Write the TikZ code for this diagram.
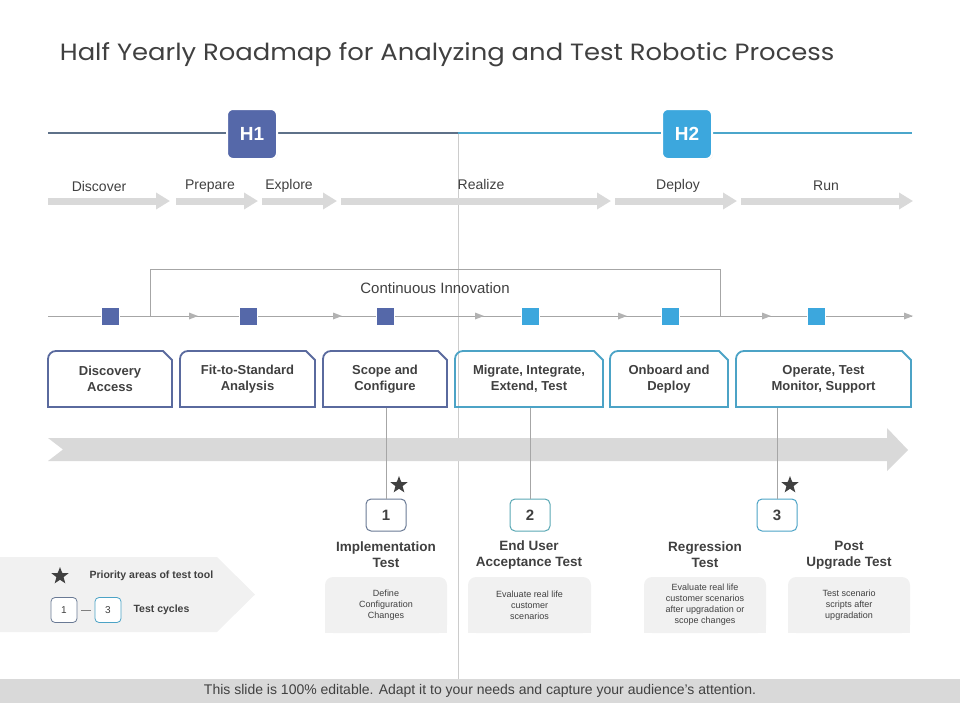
\documentclass[tikz,border=0pt]{standalone}
\usepackage{fontspec}
\setmainfont{Liberation Sans}
\newfontfamily\titlefont{Poppins}
\usetikzlibrary{arrows.meta,shapes.geometric,shadows,positioning}

\definecolor{hone}{HTML}{5568A9}
\definecolor{htwo}{HTML}{3CA7DD}
\definecolor{lineone}{HTML}{5E7189}
\definecolor{linetwo}{HTML}{4BA6CB}
\definecolor{boxone}{HTML}{5A6A9E}
\definecolor{boxtwo}{HTML}{4CA3C6}
\definecolor{numone}{HTML}{6A7A95}
\definecolor{numtwo}{HTML}{5AA8B4}
\definecolor{txt}{HTML}{404040}
\definecolor{lgray}{HTML}{D9D9D9}
\definecolor{pale}{HTML}{F1F1F1}

% stage box: name, left x, right x, colour, text
\newcommand{\stagebox}[5]{%
  \draw[#4, line width=1.8pt] (#2,407) [rounded corners=8pt]-- (#2,351) [sharp corners]-- (#3-9,351) -- (#3,360) -- (#3,407) -- cycle;
  \node[boxtext] (#1) at ({(#2+#3)/2},379) {#5};
}

\begin{document}
\begin{tikzpicture}[x=1pt,y=-1pt,
    lbl/.style={text=txt, font=\fontsize{14}{16}\selectfont},
    boxtext/.style={text=txt, font=\bfseries\fontsize{13}{16}\selectfont, align=center},
    halfbox/.style={rounded corners=6pt, minimum width=50pt, minimum height=50pt, draw=white, line width=2pt, text=white, font=\bfseries\fontsize{19}{20}\selectfont, drop shadow={opacity=0.2, shadow xshift=0.8pt, shadow yshift=-0.8pt}},
    sqmark/.style={minimum size=18pt, inner sep=0pt, draw=white, line width=0.6pt, drop shadow={opacity=0.3, shadow xshift=1.2pt, shadow yshift=-1.2pt}},
    phasearrow/.style={lgray, line width=7pt, -{Triangle[length=14pt,width=16pt]}},
    conn/.style={draw=gray!70, line width=0.8pt},
    numbox/.style={draw, rounded corners=5pt, minimum width=40pt, minimum height=32pt, fill=white, line width=1pt, text=txt, font=\bfseries\fontsize{15}{16}\selectfont},
    testtitle/.style={boxtext, font=\bfseries\fontsize{13.5}{16}\selectfont},
    desc/.style={fill=pale, rounded corners=8pt, minimum width=122pt, minimum height=56pt, text=txt, font=\fontsize{9}{11}\selectfont, align=center},
    prio/.style={star, star points=5, star point ratio=2.4, fill=txt, inner sep=0pt, minimum size=18pt}
  ]
  \useasboundingbox (0,0) rectangle (960,720);

  % Title
  \node[anchor=west, xscale=1.1, text=txt, font=\titlefont\fontsize{23.5}{26}\selectfont] (title) at (56,55) {Half Yearly Roadmap for Analyzing and Test Robotic Process};

  % Middle divider
  \draw[gray!40, line width=0.8pt] (458,133) -- (458,679);

  % Half year line
  \draw[lineone, line width=2pt] (48,133) -- (458,133);
  \draw[linetwo, line width=2pt] (458,133) -- (912,133);
  \node[halfbox, fill=hone] (h1) at (252,134) {H1};
  \node[halfbox, fill=htwo] (h2) at (687,134) {H2};

  % Phases
  \draw[phasearrow] (48,201) -- (170,201);
  \draw[phasearrow] (176,201) -- (258,201);
  \draw[phasearrow] (262,201) -- (337,201);
  \draw[phasearrow] (341,201) -- (611,201);
  \draw[phasearrow] (615,201) -- (737,201);
  \draw[phasearrow] (741,201) -- (913,201);
  \node[lbl] (discover) at (99,186) {Discover};
  \node[lbl] (prepare) at (210,186) {Prepare};
  \node[lbl] (explore) at (289,186) {Explore};
  \node[lbl] (realize) at (481,184) {Realize};
  \node[lbl] (deploy) at (678,186) {Deploy};
  \node[lbl] (run) at (826,186) {Run};

  % Continuous innovation loop
  \draw[gray!70, line width=1pt] (150,316) -- (150,269) -- (720,269) -- (720,316);
  \node[text=txt, font=\fontsize{15}{16}\selectfont] (ci) at (435,288) {Continuous Innovation};

  % Milestone line
  \draw[gray!70, line width=1pt] (48,316) -- (912,316);
  \foreach \x in {198,342,484,627,771,913}
    \fill[gray!60] (\x,316) -- ++(-9,-3.5) -- ++(0,7) -- cycle;
  \node[sqmark, fill=hone] (q1) at (110,316) {};
  \node[sqmark, fill=hone] (q2) at (248,316) {};
  \node[sqmark, fill=hone] (q3) at (385,316) {};
  \node[sqmark, fill=htwo] (q4) at (530,316) {};
  \node[sqmark, fill=htwo] (q5) at (670,316) {};
  \node[sqmark, fill=htwo] (q6) at (816,316) {};

  % Stages
  \stagebox{da}{48}{172}{boxone}{Discovery\\Access}
  \stagebox{fs}{180}{315}{boxone}{Fit-to-Standard\\Analysis}
  \stagebox{sc}{323}{447}{boxone}{Scope and\\Configure}
  \stagebox{mi}{455}{603}{boxtwo}{Migrate, Integrate,\\Extend, Test}
  \stagebox{od}{610}{728}{boxtwo}{Onboard and\\Deploy}
  \stagebox{op}{736}{911}{boxtwo}{Operate, Test\\Monitor, Support}

  % Big arrow
  \fill[lgray] (48,438) -- (887,438) -- (887,428) -- (908,450) -- (887,471) -- (887,461) -- (48,461) -- (63,449.5) -- cycle;

  % Test cycles
  \node[numbox, draw=numone] (t1) at (386,515) {1};
  \node[numbox, draw=numtwo] (t2) at (530,515) {2};
  \node[numbox, draw=boxtwo] (t3) at (777,515) {3};
  \draw[conn] (t1.north) -- (t1.north |- 0,408);
  \draw[conn] (t2.north) -- (t2.north |- 0,408);
  \draw[conn] (t3.north) -- (t3.north |- 0,408);
  \node[prio] (s1) at (399,485) {};
  \node[prio] (s3) at (790,485) {};

  \node[testtitle] (tt1) at (386,555) {Implementation\\Test};
  \node[testtitle] (tt2) at (529,555) {End User\\Acceptance Test};
  \node[testtitle] (tt3) at (705,555) {Regression\\Test};
  \node[testtitle] (tt4) at (849,555) {Post\\Upgrade Test};

  \fill[pale] (325,605) rectangle (447,633);
  \fill[pale] (468,605) rectangle (591,633);
  \fill[pale] (644,605) rectangle (766,633);
  \fill[pale] (788,605) rectangle (910,633);
  \node[desc, minimum width=122pt] (d1) at (386,605) {Define\\Configuration\\Changes};
  \node[desc, minimum width=123pt] (d2) at (529.5,605) {Evaluate real life\\customer\\scenarios};
  \node[desc, minimum width=122pt] (d3) at (705,605) {Evaluate real life\\customer scenarios\\after upgradation or\\scope changes};
  \node[desc, minimum width=122pt] (d4) at (849,605) {Test scenario\\scripts after\\upgradation};

  % Legend
  \fill[pale] (0,557) -- (217,557) -- (255,594.5) -- (217,632) -- (0,632) -- cycle;
  \node[prio] (ls) at (60,576) {};
  \node[anchor=west, text=txt, font=\bfseries\fontsize{10.5}{12}\selectfont] (lp) at (86,576) {Priority areas of test tool};
  \node[numbox, draw=numone, minimum width=26pt, minimum height=25pt, rounded corners=4pt, line width=0.8pt, font=\fontsize{10}{12}\selectfont] (l1) at (64,610) {1};
  \node[numbox, draw=boxtwo, minimum width=26pt, minimum height=25pt, rounded corners=4pt, line width=0.8pt, font=\fontsize{10}{12}\selectfont] (l3) at (108,610) {3};
  \draw[gray, line width=0.8pt, shorten <=4pt, shorten >=4pt] (l1.east) -- (l3.west);
  \node[anchor=west, text=txt, font=\bfseries\fontsize{10.5}{12}\selectfont] (lt) at (130,610) {Test cycles};

  % Footer
  \fill[lgray] (0,679) rectangle (960,703);
  \node[text=txt, font=\fontsize{14}{15}\selectfont] (foot) at (480,691) {This slide is 100\% editable. Adapt it to your needs and capture your audience's attention.};
\end{tikzpicture}
\end{document}
